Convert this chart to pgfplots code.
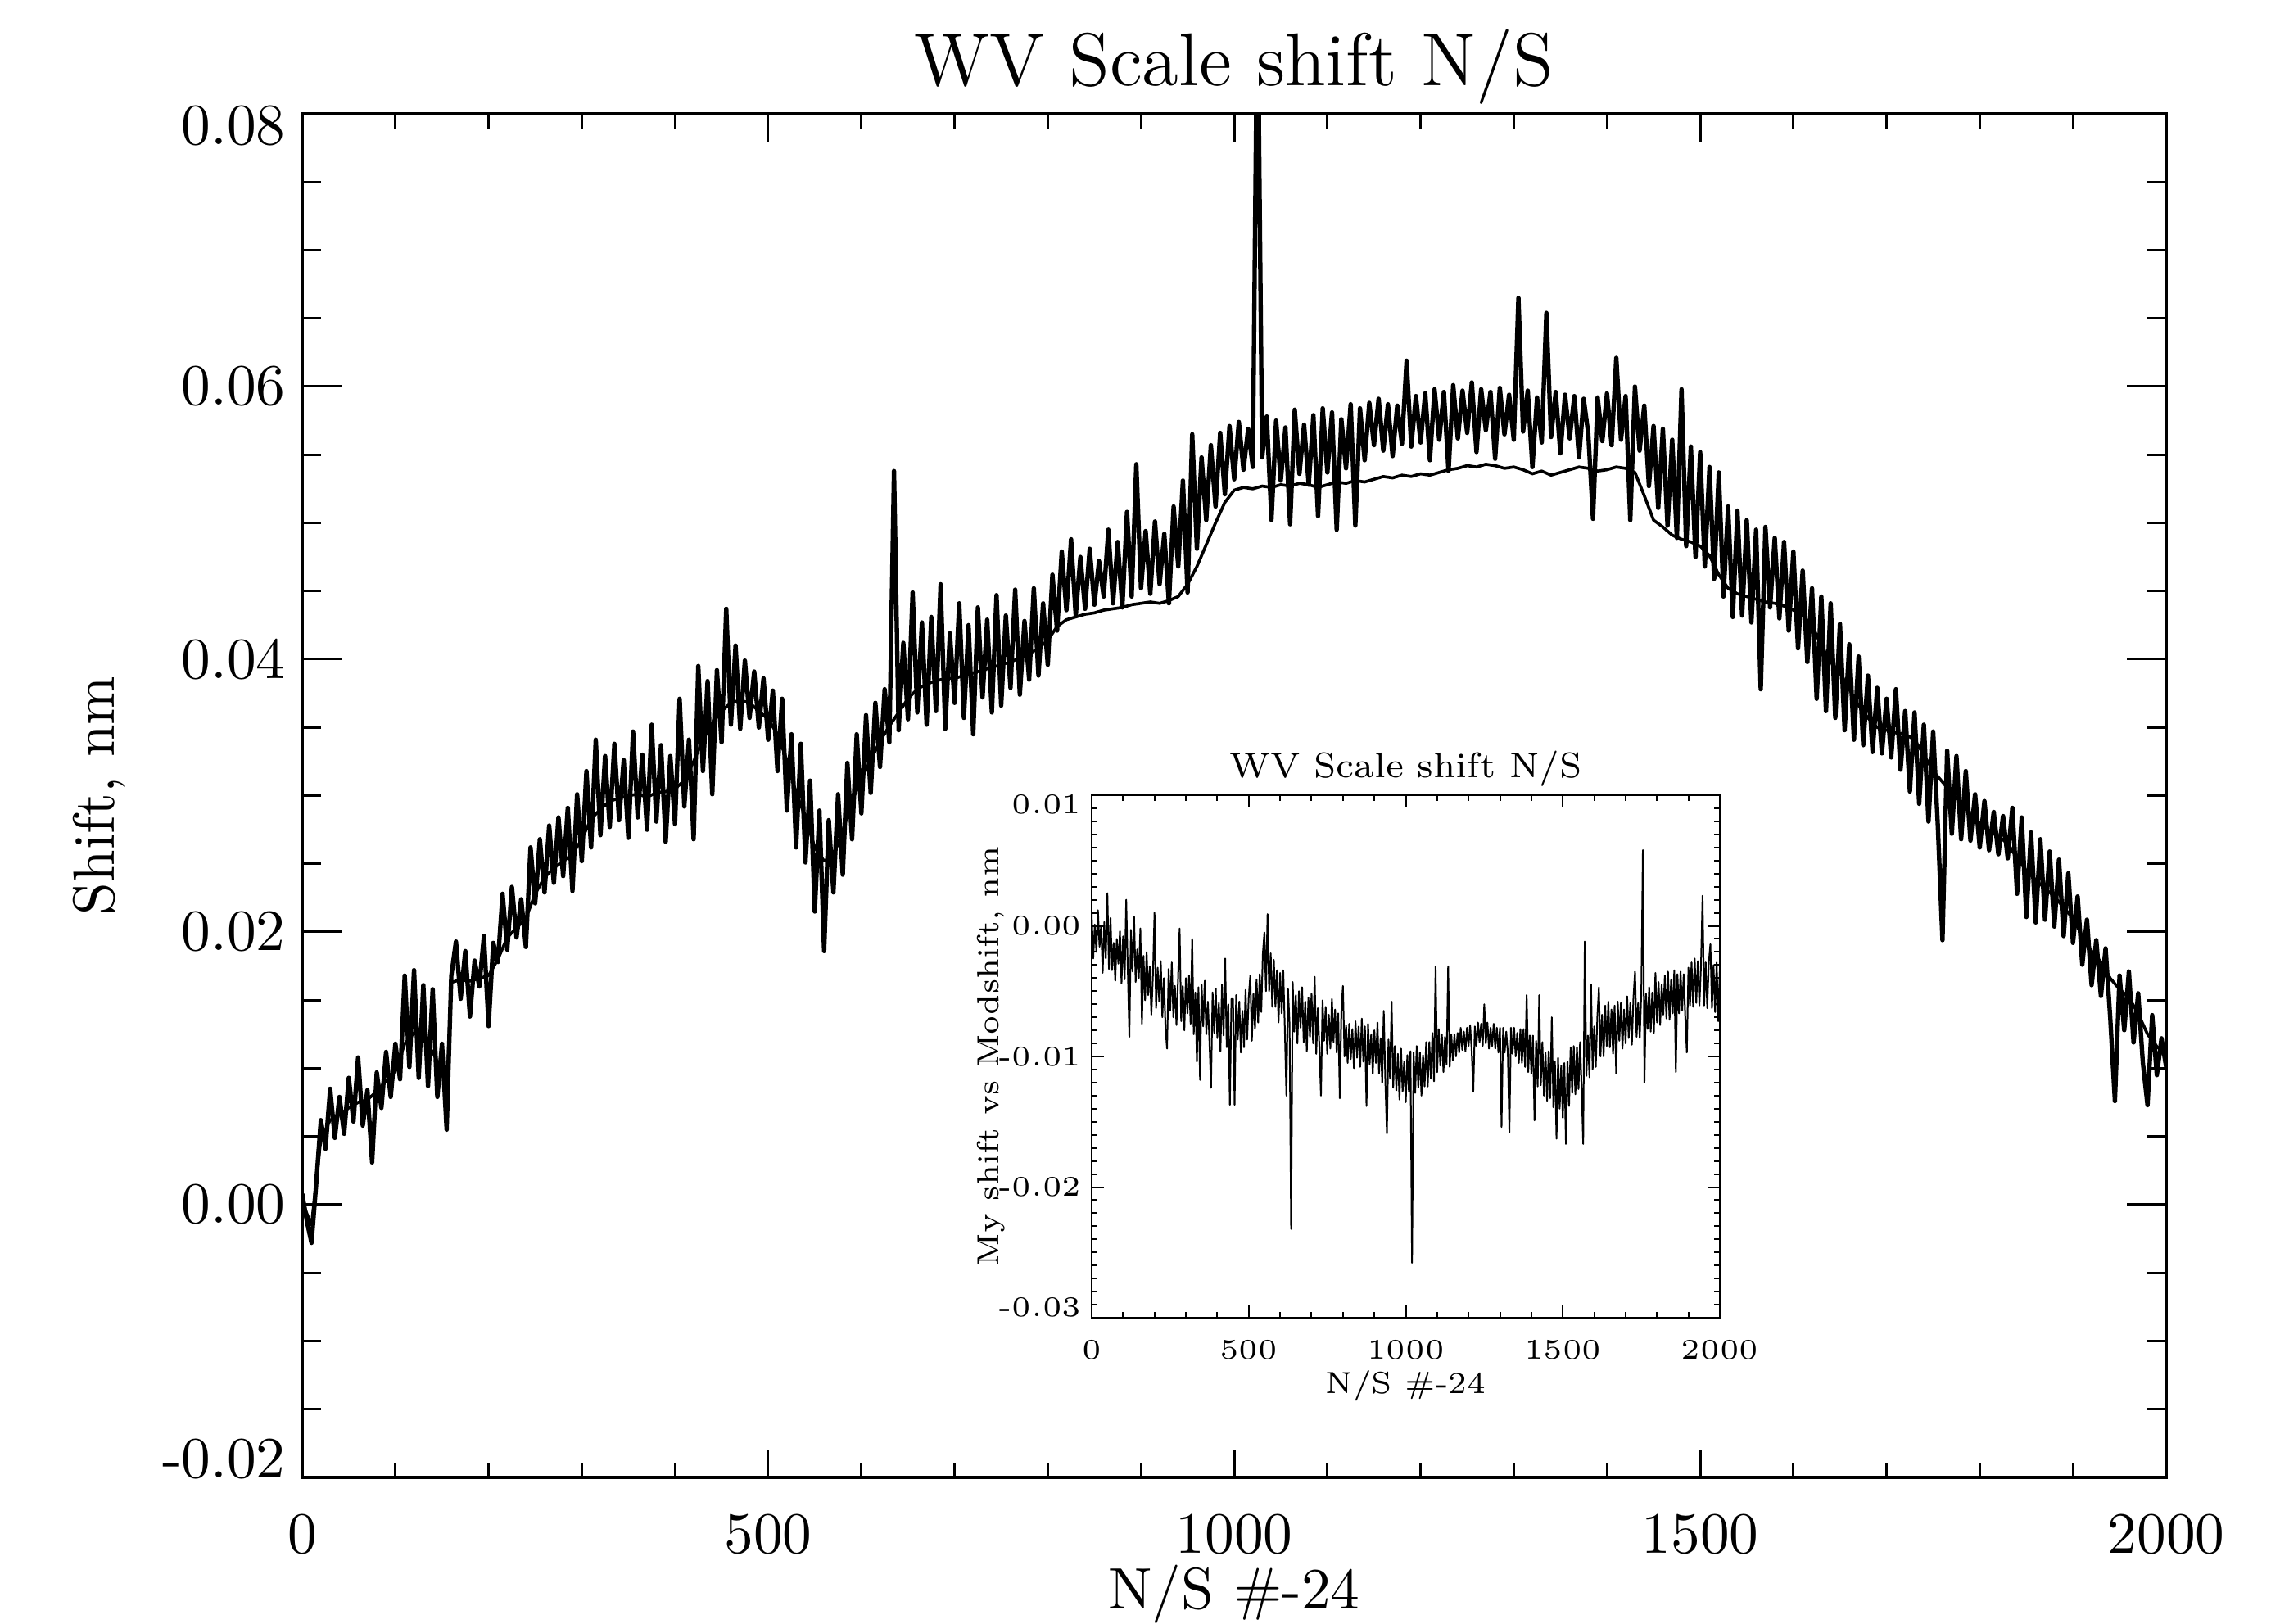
\documentclass[border=0pt]{standalone}
\usepackage{pgfplots}
\pgfplotsset{compat=1.18}
\begin{document}
\begin{tikzpicture}
\useasboundingbox (-55.35bp,-26.7bp) rectangle (362.25bp,270.6bp);
\begin{axis}[
  at={(0,0)}, anchor=south west,
  scale only axis, width=341.4bp, height=249.75bp,
  xmin=0, xmax=2000, ymin=-0.02, ymax=0.08,
  scaled x ticks=false, scaled y ticks=false,
  clip=true,
  axis line style={line width=0.55bp},
  every tick/.style={black, line width=0.45bp},
  tick align=inside,
  major tick length=7.2bp, minor tick length=3.45bp,
  xtick style={/pgfplots/major tick length=5.1bp, /pgfplots/minor tick length=2.7bp},
  xtick={0,500,1000,1500,2000}, xticklabels={0,500,1000,1500,2000},
  minor x tick num=4,
  ytick={-0.02,0,0.02,0.04,0.06,0.08},
  yticklabels={{\raisebox{0pt}[\height][7bp]{-0.02}},0.00,0.02,0.04,0.06,{\raisebox{0pt}[\dimexpr\height+4.2bp\relax][0pt]{0.08}}},
  minor ytick={-0.015,-0.01,-0.005,0.005,0.01,0.015,0.025,0.03,0.035,0.045,0.05,0.055,0.065,0.07,0.075},
  tick label style={font=\fontsize{10.7bp}{12bp}\selectfont},
  xticklabel style={anchor=base, inner sep=0pt, yshift=-13.8bp},
  yticklabel style={anchor=east, inner sep=0pt, xshift=-2.85bp},
  title={WV Scale shift N/S},
  every axis title/.style={at={(axis description cs:0.5,1)}, anchor=base, yshift=5.1bp, inner sep=0pt, font=\fontsize{13.7bp}{15bp}\selectfont},
  xlabel={N/S \#-24},
  xlabel style={at={(axis description cs:0.5,0)}, anchor=base, yshift=-24bp, inner sep=0pt, font=\fontsize{10.7bp}{12bp}\selectfont},
  ylabel={Shift, nm},
  ylabel style={at={(axis description cs:-0.1008,0.5)}, anchor=base, inner sep=0pt, font=\fontsize{10.7bp}{12bp}\selectfont},
]
\addplot[black, line width=0.8bp, line join=round] coordinates {
(0,0.0008)(5,-0.0012)(10,-0.0028)(15,0.0015)(20,0.0062)(25,0.0041)(30,0.0085)(35,0.0049)(40,0.0079)(45,0.0052)
(50,0.0093)(55,0.0061)(60,0.0108)(65,0.0058)(70,0.0084)(75,0.0031)(80,0.0097)(85,0.0071)(90,0.0112)(95,0.0079)
(100,0.0118)(105,0.0092)(110,0.0168)(115,0.0101)(120,0.0172)(125,0.0093)(130,0.0161)(135,0.0087)(140,0.0158)(145,0.0079)
(150,0.0118)(155,0.0055)(160,0.0168)(165,0.0193)(170,0.0151)(175,0.0186)(180,0.0138)(185,0.0179)(190,0.0160)(195,0.0197)
(200,0.0131)(205,0.0192)(210,0.0178)(215,0.0228)(220,0.0187)(225,0.0233)(230,0.0196)(235,0.0224)(240,0.0189)(245,0.0262)
(250,0.0221)(255,0.0268)(260,0.0229)(265,0.0278)(270,0.0236)(275,0.0284)(280,0.0241)(285,0.0291)(290,0.0230)(295,0.0301)
(300,0.0252)(305,0.0318)(310,0.0262)(315,0.0341)(320,0.0271)(325,0.0329)(330,0.0277)(335,0.0338)(340,0.0282)(345,0.0326)
(350,0.0269)(355,0.0347)(360,0.0284)(365,0.0330)(370,0.0275)(375,0.0352)(380,0.0281)(385,0.0337)(390,0.0266)(395,0.0329)
(400,0.0279)(405,0.0371)(410,0.0292)(415,0.0341)(420,0.0268)(425,0.0395)(430,0.0318)(435,0.0384)(440,0.0301)(445,0.0392)
(450,0.0339)(455,0.0437)(460,0.0352)(465,0.0410)(470,0.0349)(475,0.0399)(480,0.0357)(485,0.0391)(490,0.0350)(495,0.0386)
(500,0.0341)(505,0.0377)(510,0.0318)(515,0.0371)(520,0.0289)(525,0.0345)(530,0.0262)(535,0.0338)(540,0.0251)(545,0.0311)
(550,0.0215)(555,0.0289)(560,0.0186)(565,0.0282)(570,0.0229)(575,0.0301)(580,0.0242)(585,0.0324)(590,0.0268)(595,0.0345)
(600,0.0287)(605,0.0359)(610,0.0302)(615,0.0368)(620,0.0321)(625,0.0378)(630,0.0339)(635,0.0538)(640,0.0348)(645,0.0412)
(650,0.0356)(655,0.0449)(660,0.0361)(665,0.0427)(670,0.0352)(675,0.0431)(680,0.0362)(685,0.0455)(690,0.0349)(695,0.0419)
(700,0.0368)(705,0.0441)(710,0.0357)(715,0.0425)(720,0.0345)(725,0.0438)(730,0.0372)(735,0.0429)(740,0.0361)(745,0.0447)
(750,0.0366)(755,0.0432)(760,0.0379)(765,0.0451)(770,0.0374)(775,0.0428)(780,0.0385)(785,0.0452)(790,0.0388)(795,0.0441)
(800,0.0396)(805,0.0462)(810,0.0421)(815,0.0479)(820,0.0436)(825,0.0488)(830,0.0432)(835,0.0475)(840,0.0437)(845,0.0481)
(850,0.0440)(855,0.0472)(860,0.0446)(865,0.0495)(870,0.0441)(875,0.0486)(880,0.0438)(885,0.0508)(890,0.0446)(895,0.0543)
(900,0.0452)(905,0.0494)(910,0.0448)(915,0.0501)(920,0.0455)(925,0.0492)(930,0.0441)(935,0.0512)(940,0.0468)(945,0.0531)
(950,0.0449)(955,0.0565)(960,0.0481)(965,0.0548)(970,0.0502)(975,0.0557)(980,0.0512)(985,0.0566)(990,0.0521)(995,0.0571)
(1000,0.0532)(1005,0.0574)(1010,0.0539)(1015,0.0569)(1020,0.0541)(1025,0.0900)(1030,0.0548)(1035,0.0578)(1040,0.0502)(1045,0.0575)
(1050,0.0531)(1055,0.0570)(1060,0.0499)(1065,0.0583)(1070,0.0536)(1075,0.0572)(1080,0.0528)(1085,0.0579)(1090,0.0505)(1095,0.0584)
(1100,0.0537)(1105,0.0581)(1110,0.0495)(1115,0.0576)(1120,0.0540)(1125,0.0587)(1130,0.0498)(1135,0.0584)(1140,0.0546)(1145,0.0588)
(1150,0.0557)(1155,0.0591)(1160,0.0553)(1165,0.0587)(1170,0.0549)(1175,0.0586)(1180,0.0558)(1185,0.0619)(1190,0.0556)(1195,0.0593)
(1200,0.0559)(1205,0.0595)(1210,0.0546)(1215,0.0598)(1220,0.0561)(1225,0.0596)(1230,0.0538)(1235,0.0601)(1240,0.0562)(1245,0.0597)
(1250,0.0566)(1255,0.0603)(1260,0.0552)(1265,0.0598)(1270,0.0568)(1275,0.0596)(1280,0.0547)(1285,0.0599)(1290,0.0565)(1295,0.0594)
(1300,0.0561)(1305,0.0665)(1310,0.0567)(1315,0.0597)(1320,0.0541)(1325,0.0592)(1330,0.0559)(1335,0.0654)(1340,0.0563)(1345,0.0596)
(1350,0.0551)(1355,0.0594)(1360,0.0562)(1365,0.0593)(1370,0.0548)(1375,0.0591)(1380,0.0565)(1385,0.0503)(1390,0.0592)(1395,0.0560)
(1400,0.0595)(1405,0.0557)(1410,0.0621)(1415,0.0561)(1420,0.0593)(1425,0.0502)(1430,0.0600)(1435,0.0553)(1440,0.0586)(1445,0.0527)
(1450,0.0571)(1455,0.0511)(1460,0.0569)(1465,0.0498)(1470,0.0561)(1475,0.0489)(1480,0.0598)(1485,0.0483)(1490,0.0556)(1495,0.0475)
(1500,0.0552)(1505,0.0468)(1510,0.0541)(1515,0.0459)(1520,0.0537)(1525,0.0446)(1530,0.0512)(1535,0.0431)(1540,0.0509)(1545,0.0432)
(1550,0.0502)(1555,0.0427)(1560,0.0495)(1565,0.0378)(1570,0.0497)(1575,0.0438)(1580,0.0489)(1585,0.0430)(1590,0.0486)(1595,0.0421)
(1600,0.0479)(1605,0.0408)(1610,0.0465)(1615,0.0398)(1620,0.0452)(1625,0.0371)(1630,0.0446)(1635,0.0362)(1640,0.0441)(1645,0.0357)
(1650,0.0426)(1655,0.0348)(1660,0.0411)(1665,0.0341)(1670,0.0402)(1675,0.0337)(1680,0.0388)(1685,0.0332)(1690,0.0379)(1695,0.0331)
(1700,0.0371)(1705,0.0328)(1710,0.0378)(1715,0.0319)(1720,0.0362)(1725,0.0303)(1730,0.0361)(1735,0.0294)(1740,0.0352)(1745,0.0281)
(1750,0.0347)(1755,0.0278)(1760,0.0194)(1765,0.0333)(1770,0.0272)(1775,0.0329)(1780,0.0268)(1785,0.0318)(1790,0.0267)(1795,0.0301)
(1800,0.0262)(1805,0.0296)(1810,0.0260)(1815,0.0288)(1820,0.0257)(1825,0.0285)(1830,0.0254)(1835,0.0291)(1840,0.0228)(1845,0.0284)
(1850,0.0211)(1855,0.0273)(1860,0.0207)(1865,0.0268)(1870,0.0209)(1875,0.0259)(1880,0.0204)(1885,0.0253)(1890,0.0197)(1895,0.0243)
(1900,0.0192)(1905,0.0226)(1910,0.0176)(1915,0.0209)(1920,0.0161)(1925,0.0194)(1930,0.0153)(1935,0.0188)(1940,0.0137)(1945,0.0076)
(1950,0.0168)(1955,0.0128)(1960,0.0171)(1965,0.0119)(1970,0.0155)(1975,0.0104)(1980,0.0073)(1985,0.0139)(1990,0.0095)(1995,0.0122)
(2000,0.0101)
};
\addplot[black, line width=0.55bp, line join=round] coordinates {
(0,0.0002)(10,-0.0015)(20,0.0048)(30,0.0062)(40,0.0066)(50,0.0071)(60,0.0075)(70,0.0077)(80,0.0083)(90,0.0091)
(100,0.0098)(110,0.0118)(120,0.0126)(130,0.0121)(140,0.0112)(150,0.0098)(155,0.0082)(160,0.0163)(170,0.0165)(180,0.0164)
(190,0.0166)(200,0.0168)(210,0.0180)(220,0.0196)(230,0.0203)(240,0.0210)(250,0.0228)(260,0.0240)(270,0.0247)(280,0.0252)
(290,0.0257)(300,0.0268)(310,0.0283)(320,0.0290)(330,0.0296)(340,0.0298)(350,0.0300)(360,0.0301)(370,0.0299)(380,0.0302)
(390,0.0303)(400,0.0305)(410,0.0311)(420,0.0325)(430,0.0341)(440,0.0353)(450,0.0362)(460,0.0368)(470,0.0370)(480,0.0368)
(490,0.0362)(500,0.0356)(510,0.0345)(520,0.0326)(530,0.0302)(540,0.0284)(550,0.0262)(560,0.0252)(570,0.0256)(580,0.0274)
(590,0.0296)(600,0.0312)(610,0.0326)(620,0.0340)(630,0.0351)(640,0.0361)(650,0.0371)(660,0.0378)(670,0.0382)(680,0.0384)
(690,0.0386)(700,0.0386)(710,0.0388)(720,0.0390)(730,0.0392)(740,0.0394)(750,0.0396)(760,0.0398)(770,0.0401)(780,0.0404)
(790,0.0408)(800,0.0414)(810,0.0424)(820,0.0429)(830,0.0431)(840,0.0433)(850,0.0434)(860,0.0436)(870,0.0437)(880,0.0438)
(890,0.0440)(900,0.0441)(910,0.0442)(920,0.0441)(930,0.0443)(940,0.0446)(950,0.0455)(960,0.0468)(970,0.0484)(980,0.0500)
(990,0.0515)(1000,0.0524)(1010,0.0526)(1020,0.0525)(1030,0.0527)(1040,0.0526)(1050,0.0528)(1060,0.0527)(1070,0.0529)(1080,0.0528)
(1090,0.0526)(1100,0.0528)(1110,0.0530)(1120,0.0529)(1130,0.0531)(1140,0.0530)(1150,0.0532)(1160,0.0534)(1170,0.0533)(1180,0.0535)
(1190,0.0534)(1200,0.0536)(1210,0.0535)(1220,0.0537)(1230,0.0539)(1240,0.0540)(1250,0.0542)(1260,0.0541)(1270,0.0543)(1280,0.0542)
(1290,0.0540)(1300,0.0541)(1310,0.0539)(1320,0.0536)(1330,0.0538)(1340,0.0535)(1350,0.0537)(1360,0.0539)(1370,0.0541)(1380,0.0540)
(1390,0.0538)(1400,0.0539)(1410,0.0541)(1420,0.0540)(1430,0.0537)(1440,0.0520)(1450,0.0502)(1460,0.0497)(1470,0.0491)(1480,0.0488)
(1490,0.0486)(1500,0.0483)(1510,0.0476)(1520,0.0462)(1530,0.0452)(1540,0.0448)(1550,0.0446)(1560,0.0444)(1570,0.0442)(1580,0.0441)
(1590,0.0439)(1600,0.0436)(1610,0.0432)(1620,0.0425)(1630,0.0410)(1640,0.0398)(1650,0.0390)(1660,0.0378)(1670,0.0366)(1680,0.0357)
(1690,0.0350)(1700,0.0348)(1710,0.0346)(1720,0.0345)(1730,0.0341)(1740,0.0330)(1750,0.0318)(1760,0.0310)(1770,0.0302)(1780,0.0294)
(1790,0.0286)(1800,0.0280)(1810,0.0274)(1820,0.0270)(1830,0.0265)(1840,0.0254)(1850,0.0245)(1860,0.0238)(1870,0.0232)(1880,0.0226)
(1890,0.0218)(1900,0.0210)(1910,0.0197)(1920,0.0186)(1930,0.0178)(1940,0.0166)(1950,0.0158)(1960,0.0152)(1970,0.0140)(1980,0.0125)
(1990,0.0116)(2000,0.0110)
};
\end{axis}
\begin{axis}[
  at={(144.6bp,29.25bp)}, anchor=south west,
  scale only axis, width=115.05bp, height=95.7bp,
  xmin=0, xmax=2000, ymin=-0.03, ymax=0.01,
  scaled x ticks=false, scaled y ticks=false,
  clip=true,
  axis background/.style={fill=white},
  axis line style={line width=0.3bp},
  every tick/.style={black, line width=0.3bp},
  tick align=inside,
  major tick length=2.2bp, minor tick length=1.0bp,
  xtick={0,500,1000,1500,2000}, xticklabels={0,500,1000,1500,2000},
  minor x tick num=4,
  ytick={-0.03,-0.02,-0.01,0,0.01},
  yticklabels={{\raisebox{0pt}[\height][3.8bp]{-0.03}},-0.02,-0.01,0.00,{\raisebox{0pt}[\dimexpr\height+3.2bp\relax][0pt]{0.01}}},
  minor y tick num=9,
  tick label style={font=\fontsize{5.2bp}{6bp}\selectfont},
  xticklabel style={anchor=base, inner sep=0pt, yshift=-7.5bp},
  yticklabel style={anchor=east, inner sep=0pt, xshift=-1.7bp},
  title={WV Scale shift N/S},
  every axis title/.style={at={(axis description cs:0.5,1)}, anchor=base, yshift=3.2bp, inner sep=0pt, font=\fontsize{6.5bp}{7.5bp}\selectfont},
  xlabel={N/S \#-24},
  xlabel style={at={(axis description cs:0.5,0)}, anchor=base, yshift=-13.8bp, inner sep=0pt, font=\fontsize{5.6bp}{6.5bp}\selectfont},
  ylabel={My shift vs Modshift, nm},
  ylabel style={at={(axis description cs:-0.1478,0.5)}, anchor=base, inner sep=0pt, font=\fontsize{5.6bp}{6.5bp}\selectfont},
]
\addplot[black, line width=0.3bp, line join=round] coordinates {
(0,0.0009)(5,-0.0025)(10,0.0001)(15,-0.0020)(20,0.0012)(25,-0.0016)(30,0.0000)(35,-0.0036)(40,0.0003)(45,-0.0025)
(50,0.0025)(55,-0.0033)(60,0.0006)(65,-0.0034)(70,-0.0013)(75,-0.0042)(80,-0.0010)(85,-0.0029)(90,-0.0004)(95,-0.0044)
(100,-0.0008)(105,-0.0041)(110,0.0020)(115,-0.0034)(120,-0.0085)(125,-0.0003)(130,-0.0035)(135,0.0007)(140,-0.0043)(145,-0.0018)
(150,-0.0040)(155,-0.0002)(160,-0.0075)(165,-0.0023)(170,-0.0057)(175,-0.0020)(180,-0.0053)(185,-0.0031)(190,-0.0068)(195,-0.0038)
(200,0.0010)(205,-0.0063)(210,-0.0032)(215,-0.0058)(220,-0.0027)(225,-0.0070)(230,-0.0040)(235,-0.0078)(240,-0.0094)(245,-0.0033)
(250,-0.0065)(255,-0.0028)(260,-0.0070)(265,-0.0046)(270,-0.0076)(275,-0.0041)(280,-0.0002)(285,-0.0073)(290,-0.0046)(295,-0.0080)
(300,-0.0040)(305,-0.0067)(310,-0.0038)(315,-0.0075)(320,-0.0010)(325,-0.0083)(330,-0.0051)(335,-0.0104)(340,-0.0047)(345,-0.0118)
(350,-0.0045)(355,-0.0077)(360,-0.0042)(365,-0.0083)(370,-0.0058)(375,-0.0089)(380,-0.0124)(385,-0.0051)(390,-0.0082)(395,-0.0048)
(400,-0.0086)(405,-0.0059)(410,-0.0096)(415,-0.0045)(420,-0.0084)(425,-0.0025)(430,-0.0093)(435,-0.0060)(440,-0.0137)(445,-0.0056)
(450,-0.0056)(455,-0.0137)(460,-0.0053)(465,-0.0087)(470,-0.0058)(475,-0.0097)(480,-0.0065)(485,-0.0093)(490,-0.0049)(495,-0.0087)
(500,-0.0055)(505,-0.0038)(510,-0.0088)(515,-0.0052)(520,-0.0079)(525,-0.0041)(530,-0.0074)(535,-0.0037)(540,-0.0066)(545,-0.0021)
(550,-0.0005)(555,-0.0050)(560,0.0009)(565,-0.0050)(570,-0.0021)(575,-0.0062)(580,-0.0026)(585,-0.0062)(590,-0.0034)(595,-0.0074)
(600,-0.0036)(605,-0.0067)(610,-0.0034)(615,-0.0079)(620,-0.0130)(625,-0.0048)(630,-0.0075)(635,-0.0232)(640,-0.0043)(645,-0.0081)
(650,-0.0053)(655,-0.0090)(660,-0.0050)(665,-0.0078)(670,-0.0047)(675,-0.0089)(680,-0.0058)(685,-0.0096)(690,-0.0055)(695,-0.0085)
(700,-0.0052)(705,-0.0090)(710,-0.0039)(715,-0.0098)(720,-0.0063)(725,-0.0093)(730,-0.0130)(735,-0.0057)(740,-0.0088)(745,-0.0062)
(750,-0.0098)(755,-0.0068)(760,-0.0094)(765,-0.0056)(770,-0.0089)(775,-0.0064)(780,-0.0097)(785,-0.0067)(790,-0.0132)(795,-0.0066)
(800,-0.0046)(805,-0.0100)(810,-0.0076)(815,-0.0105)(820,-0.0075)(825,-0.0102)(830,-0.0079)(835,-0.0109)(840,-0.0073)(845,-0.0101)
(850,-0.0077)(855,-0.0108)(860,-0.0071)(865,-0.0104)(870,-0.0077)(875,-0.0138)(880,-0.0075)(885,-0.0106)(890,-0.0083)(895,-0.0113)
(900,-0.0080)(905,-0.0105)(910,-0.0074)(915,-0.0113)(920,-0.0086)(925,-0.0120)(930,-0.0065)(935,-0.0119)(940,-0.0159)(945,-0.0087)
(950,-0.0117)(955,-0.0058)(960,-0.0124)(965,-0.0092)(970,-0.0126)(975,-0.0098)(980,-0.0133)(985,-0.0094)(990,-0.0127)(995,-0.0104)
(1000,-0.0135)(1005,-0.0099)(1010,-0.0127)(1015,-0.0096)(1020,-0.0258)(1025,-0.0097)(1030,-0.0128)(1035,-0.0092)(1040,-0.0124)(1045,-0.0097)
(1050,-0.0130)(1055,-0.0099)(1060,-0.0123)(1065,-0.0089)(1070,-0.0123)(1075,-0.0089)(1080,-0.0117)(1085,-0.0082)(1090,-0.0119)(1095,-0.0031)
(1100,-0.0112)(1105,-0.0079)(1110,-0.0107)(1115,-0.0083)(1120,-0.0112)(1125,-0.0085)(1130,-0.0106)(1135,-0.0031)(1140,-0.0108)(1145,-0.0083)
(1150,-0.0103)(1155,-0.0083)(1160,-0.0100)(1165,-0.0082)(1170,-0.0097)(1175,-0.0078)(1180,-0.0095)(1185,-0.0081)(1190,-0.0096)(1195,-0.0078)
(1200,-0.0092)(1205,-0.0076)(1210,-0.0096)(1215,-0.0127)(1220,-0.0077)(1225,-0.0092)(1230,-0.0074)(1235,-0.0089)(1240,-0.0075)(1245,-0.0092)
(1250,-0.0060)(1255,-0.0090)(1260,-0.0074)(1265,-0.0094)(1270,-0.0078)(1275,-0.0092)(1280,-0.0075)(1285,-0.0094)(1290,-0.0078)(1295,-0.0097)
(1300,-0.0078)(1305,-0.0154)(1310,-0.0078)(1315,-0.0097)(1320,-0.0081)(1325,-0.0097)(1330,-0.0158)(1335,-0.0078)(1340,-0.0098)(1345,-0.0078)
(1350,-0.0100)(1355,-0.0082)(1360,-0.0105)(1365,-0.0079)(1370,-0.0105)(1375,-0.0079)(1380,-0.0108)(1385,-0.0053)(1390,-0.0112)(1395,-0.0084)
(1400,-0.0113)(1405,-0.0084)(1410,-0.0149)(1415,-0.0088)(1420,-0.0123)(1425,-0.0053)(1430,-0.0122)(1435,-0.0089)(1440,-0.0130)(1445,-0.0097)
(1450,-0.0134)(1455,-0.0096)(1460,-0.0132)(1465,-0.0070)(1470,-0.0139)(1475,-0.0104)(1480,-0.0163)(1485,-0.0101)(1490,-0.0140)(1495,-0.0107)
(1500,-0.0147)(1505,-0.0105)(1510,-0.0167)(1515,-0.0104)(1520,-0.0138)(1525,-0.0093)(1530,-0.0128)(1535,-0.0092)(1540,-0.0129)(1545,-0.0093)
(1550,-0.0125)(1555,-0.0089)(1560,-0.0124)(1565,-0.0167)(1570,-0.0012)(1575,-0.0115)(1580,-0.0084)(1585,-0.0116)(1590,-0.0045)(1595,-0.0110)
(1600,-0.0077)(1605,-0.0108)(1610,-0.0070)(1615,-0.0047)(1620,-0.0100)(1625,-0.0068)(1630,-0.0100)(1635,-0.0061)(1640,-0.0092)(1645,-0.0058)
(1650,-0.0093)(1655,-0.0064)(1660,-0.0098)(1665,-0.0061)(1670,-0.0113)(1675,-0.0058)(1680,-0.0088)(1685,-0.0059)(1690,-0.0094)(1695,-0.0064)
(1700,-0.0090)(1705,-0.0054)(1710,-0.0086)(1715,-0.0059)(1720,-0.0091)(1725,-0.0055)(1730,-0.0035)(1735,-0.0085)(1740,-0.0059)(1745,-0.0086)
(1750,-0.0052)(1755,0.0058)(1760,-0.0120)(1765,-0.0052)(1770,-0.0079)(1775,-0.0047)(1780,-0.0081)(1785,-0.0051)(1790,-0.0082)(1795,-0.0036)
(1800,-0.0074)(1805,-0.0043)(1810,-0.0076)(1815,-0.0045)(1820,-0.0068)(1825,-0.0038)(1830,-0.0071)(1835,-0.0035)(1840,-0.0072)(1845,-0.0041)
(1850,-0.0067)(1855,-0.0034)(1860,-0.0112)(1865,-0.0037)(1870,-0.0067)(1875,-0.0035)(1880,-0.0065)(1885,-0.0037)(1890,-0.0070)(1895,-0.0097)
(1900,-0.0032)(1905,-0.0061)(1910,-0.0028)(1915,-0.0062)(1920,-0.0025)(1925,-0.0059)(1930,-0.0027)(1935,-0.0061)(1940,-0.0031)(1945,0.0023)
(1950,-0.0061)(1955,-0.0028)(1960,-0.0063)(1965,-0.0028)(1970,-0.0014)(1975,-0.0063)(1980,-0.0030)(1985,-0.0066)(1990,-0.0028)(1995,-0.0073)
(2000,-0.0035)
};
\end{axis}
\end{tikzpicture}
\end{document}
